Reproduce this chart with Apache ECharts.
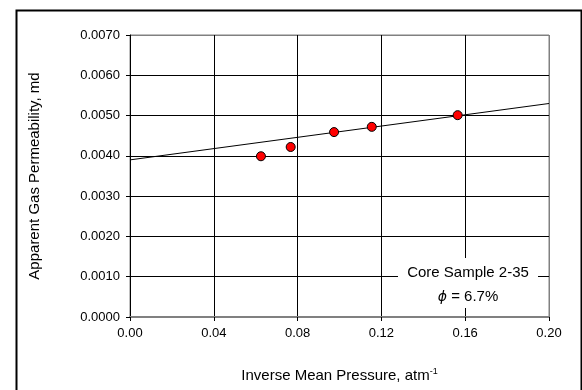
<!DOCTYPE html>
<html>
<head>
<meta charset="utf-8">
<script src="https://cdn.jsdelivr.net/npm/echarts@6/dist/echarts.min.js"></script>
<style>
html,body{margin:0;padding:0;background:#fff;}
#c{width:582px;height:390px;}
</style>
</head>
<body>
<div id="c"></div>
<script>
// Data
var inversePressure = [0.0625, 0.0767, 0.0974, 0.1154, 0.1564];
var permeability = [0.00399, 0.00422, 0.00459, 0.00472, 0.00501];
var trendX = [0.00, 0.20];
var trendY = [0.0039, 0.0053];
var xTitle = 'Inverse Mean Pressure, atm';
var xTitleSup = '-1';
var yTitle = 'Apparent Gas Permeability, md';
var noteLine1 = 'Core Sample 2-35';
var notePhi = '\u03D5';
var noteLine2 = ' = 6.7%';

var font = 'Liberation Sans, Arial, sans-serif';
var chart = echarts.init(document.getElementById('c'), null, {renderer: 'canvas'});
chart.setOption({
  animation: false,
  backgroundColor: '#fff',
  grid: {left: 130, top: 35, right: 33, bottom: 73, show: true, borderColor: '#808080', borderWidth: 1, backgroundColor: 'transparent'},
  xAxis: {
    type: 'value', min: 0, max: 0.2, interval: 0.04,
    name: xTitle + '{sup|' + xTitleSup + '}',
    nameLocation: 'middle', nameGap: 50,
    nameTextStyle: {fontFamily: font, fontSize: 15, color: '#000',
      rich: {sup: {fontFamily: font, fontSize: 9, color: '#000', verticalAlign: 'top', padding: [0,0,8,0]}}},
    axisLine: {show: true, onZero: false, lineStyle: {color: '#808080', width: 2}},
    axisTick: {show: true, inside: false, length: 4, lineStyle: {color: '#000'}},
    axisLabel: {fontFamily: font, fontSize: 13, color: '#000', margin: 10,
      formatter: function (v) { return v.toFixed(2); }},
    splitLine: {show: true, lineStyle: {color: ['#000', '#000', '#000', '#000', '#000', '#808080'], width: 1}}
  },
  yAxis: {
    type: 'value', min: 0, max: 0.007, interval: 0.001,
    name: yTitle, nameLocation: 'middle', nameGap: 88, nameRotate: 90,
    nameTextStyle: {fontFamily: font, fontSize: 15, color: '#000'},
    axisLine: {show: true, onZero: false, lineStyle: {color: '#000', width: 1}},
    axisTick: {show: true, inside: false, length: 4, lineStyle: {color: '#000'}},
    axisLabel: {fontFamily: font, fontSize: 13, color: '#000', margin: 10,
      formatter: function (v) { return v.toFixed(4); }},
    splitLine: {show: true, lineStyle: {color: ['#000', '#000', '#000', '#000', '#000', '#000', '#000', '#808080'], width: 1}}
  },
  series: [
    {
      type: 'line', data: trendX.map(function (x, i) { return [x, trendY[i]]; }),
      showSymbol: false, symbol: 'none', lineStyle: {color: '#000', width: 1}, z: 3, silent: true
    },
    {
      type: 'scatter', data: inversePressure.map(function (x, i) { return [x, permeability[i]]; }),
      symbol: 'circle', symbolSize: 9,
      itemStyle: {color: '#FF0000', borderColor: '#000', borderWidth: 1, opacity: 1}, z: 4
    }
  ],
  graphic: [
    {type: 'rect', left: 14, top: 8, shape: {x: 0, y: 0, width: 565, height: 400},
      style: {fill: 'none', stroke: '#000', lineWidth: 2}, silent: true, z: 1},
    {type: 'rect', shape: {x: 398, y: 258, width: 140, height: 50},
      style: {fill: '#fff', stroke: 'none'}, z: 100},
    {type: 'text', x: 468, y: 273, z: 101,
      style: {text: noteLine1, font: '15px ' + font, fill: '#000', textAlign: 'center', textVerticalAlign: 'middle'}},
    {type: 'text', x: 468, y: 297, z: 101,
      style: {text: '{phi|' + notePhi + '}' + noteLine2, font: '15px ' + font, fill: '#000', align: 'center', verticalAlign: 'middle',
        rich: {phi: {fontFamily: 'DejaVu Sans, sans-serif', fontStyle: 'italic', fontSize: 14, fill: '#000'}}}}
  ]
});
</script>
</body>
</html>
